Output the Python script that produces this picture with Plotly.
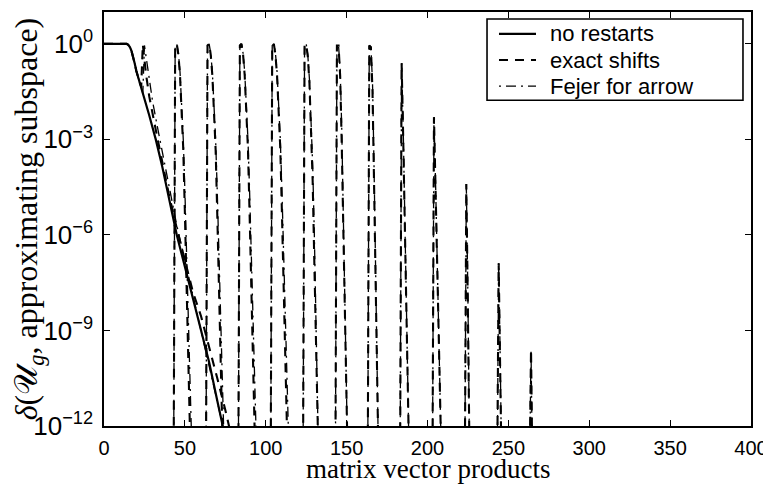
import plotly.graph_objects as go

# ---- data ----
# no restarts (solid)
norestart_x = [0, 10, 14, 15, 16, 17, 18, 19, 20, 21, 24, 28, 32, 36, 40, 45, 50, 55, 60, 65, 70, 74, 76]
norestart_y = [1.0, 1.0, 1.0, 0.93, 0.79, 0.60, 0.40, 0.24, 0.14, 0.089, 0.028, 5.6e-3, 1.0e-3, 1.4e-4,
               1.6e-5, 1.0e-6, 1.0e-7, 1.0e-8, 1.1e-9, 1.0e-10, 6.3e-12, 7.9e-13, 2.5e-13]

# exact shifts (dashed) -- first cycle, then one spike per restart
exact_x = [0, 10, 14, 15, 16, 17, 18, 19, 20, 21, 22, 23, 24, 25, 26, 28, 30, 33, 36, 40, 45, 50, 55, 60, 65, 70, 75, 78, 80,
           None,
           43, 44, 45, 46, 47, 48, 49, 50, 51, 52, 53, 54,
           63, 64, 65, 66, 67, 68, 69, 70, 71, 72, 73, 74,
           83, 84, 85, 86, 87, 88, 89, 90, 91, 92, 93, 94,
           103, 104, 105, 106, 107, 108, 109, 110, 111, 112, 113, 114,
           123, 124, 125, 126, 127, 128, 129, 130, 131, 132, 133,
           143, 144, 145, 146, 147, 148, 149, 150, 151,
           163, 164, 165, 166, 167, 168, 169, 170,
           183, 184, 185, 186, 187, 188, 189,
           203, 204, 205, 206, 207, 208, 209,
           223, 224, 225, 226,
           243, 244, 245, 246,
           263, 264, 265]
exact_y = [1.0, 1.0, 1.0, 0.93, 0.79, 0.60, 0.40, 0.24, 0.14, 0.089, 0.063, 0.045, 0.95, 0.32, 0.11, 0.022, 6.3e-3,
           1.1e-3, 2.0e-4, 2.0e-5, 1.6e-6, 1.6e-7, 1.6e-8, 2.8e-9, 3.2e-10, 3.2e-11, 3.2e-12, 7.9e-13, 2.5e-13,
           None,
           1e-14, 0.89, 1.0, 0.45, 0.10, 0.010, 5.0e-4, 5.0e-6, 2.5e-8, 1.6e-10, 7.9e-13, 1e-14,
           1e-14, 0.89, 1.0, 0.45, 0.10, 0.010, 5.0e-4, 5.0e-6, 2.5e-8, 1.6e-10, 7.9e-13, 1e-14,
           1e-14, 0.89, 1.0, 0.45, 0.10, 0.010, 5.0e-4, 5.0e-6, 2.5e-8, 1.6e-10, 7.9e-13, 1e-14,
           1e-14, 0.89, 1.0, 0.45, 0.10, 0.010, 5.0e-4, 5.0e-6, 2.5e-8, 1.6e-10, 7.9e-13, 1e-14,
           1e-14, 0.89, 1.0, 0.40, 0.063, 3.2e-3, 5.0e-5, 1.6e-7, 4.0e-10, 6.3e-13, 1e-14,
           1e-14, 0.89, 0.89, 0.10, 6.3e-4, 1.0e-6, 1.0e-9, 5.0e-13, 1e-14,
           1e-14, 0.89, 0.79, 0.032, 3.2e-5, 1.6e-8, 1.0e-11, 1e-14,
           1e-14, 0.25, 1.0e-3, 1.6e-6, 2.0e-9, 2.5e-12, 1e-14,
           1e-14, 5.0e-3, 2.5e-5, 1.0e-7, 4.0e-10, 1.6e-12, 1e-14,
           1e-14, 4.0e-5, 3.2e-9, 1e-13,
           1e-14, 1.3e-7, 3.2e-11, 1e-14,
           1e-14, 2.5e-10, 1e-14]

# Fejer for arrow (dash-dot)
fejer_x = [0, 10, 14, 15, 16, 17, 18, 19, 20, 21, 22, 23, 24, 25, 26, 28, 30, 33, 36, 40, 45, 50, 55, 60, 65, 70, 75, 78,
           None,
           43, 44, 45, 46, 47, 48, 49, 50, 51, 52, 53, 54, 55,
           63, 64, 65, 66, 67, 68, 69, 70, 71, 72, 73, 74, 75,
           83, 84, 85, 86, 87, 88, 89, 90, 91, 92, 93, 94, 95,
           103, 104, 105, 106, 107, 108, 109, 110, 111, 112, 113, 114, 115,
           123, 124, 125, 126, 127, 128, 129, 130, 131, 132, 133,
           143, 144, 145, 146, 147, 148, 149, 150, 151,
           163, 164, 165, 166, 167, 168, 169, 170,
           183, 184, 185, 186, 187, 188, 189,
           203, 204, 205, 206, 207, 208, 209,
           223, 224, 225, 226,
           243, 244, 245, 246,
           263, 264, 265]
fejer_y = [1.0, 1.0, 1.0, 0.93, 0.79, 0.60, 0.40, 0.24, 0.14, 0.089, 0.063, 0.045, 0.028, 0.89, 0.40, 0.063, 0.016,
           2.5e-3, 4.0e-4, 3.2e-5, 2.0e-6, 1.6e-7, 1.3e-8, 1.0e-9, 7.9e-11, 6.3e-12, 5.0e-13, 1.0e-13,
           None,
           1e-14, 0.89, 1.0, 0.50, 0.13, 0.016, 1.0e-3, 2.5e-5, 4.0e-7, 5.0e-9, 6.3e-11, 5.0e-13, 1e-14,
           1e-14, 0.89, 1.0, 0.50, 0.13, 0.016, 1.0e-3, 2.5e-5, 4.0e-7, 5.0e-9, 6.3e-11, 5.0e-13, 1e-14,
           1e-14, 0.89, 1.0, 0.50, 0.13, 0.016, 1.0e-3, 2.5e-5, 4.0e-7, 5.0e-9, 6.3e-11, 5.0e-13, 1e-14,
           1e-14, 0.89, 1.0, 0.50, 0.13, 0.016, 1.0e-3, 2.5e-5, 4.0e-7, 5.0e-9, 6.3e-11, 5.0e-13, 1e-14,
           1e-14, 0.89, 1.0, 0.45, 0.079, 5.0e-3, 1.6e-4, 1.3e-6, 5.0e-9, 1.3e-11, 1e-14,
           1e-14, 0.89, 0.89, 0.16, 2.0e-3, 5.0e-6, 1.0e-8, 1.0e-11, 1e-14,
           1e-14, 0.89, 0.79, 0.063, 1.0e-4, 1.0e-7, 6.3e-11, 1e-14,
           1e-14, 0.25, 2.0e-3, 5.0e-6, 6.3e-9, 7.9e-12, 1e-14,
           1e-14, 5.0e-3, 4.0e-5, 2.0e-7, 1.0e-9, 3.2e-12, 1e-14,
           1e-14, 4.0e-5, 1.0e-8, 1e-13,
           1e-14, 1.3e-7, 1.0e-10, 1e-14,
           1e-14, 2.5e-10, 1e-14]

legend_names = ["no restarts", "exact shifts", "Fejer for arrow"]
x_title = "matrix vector products"
y_title = "<i>δ</i>(𝒰<sub><i>g</i></sub>, approximating subspace)"
x_ticks = [0, 50, 100, 150, 200, 250, 300, 350, 400]
y_ticks = [1e-12, 1e-9, 1e-6, 1e-3, 1.0]
y_ticktext = ["10<sup>−12</sup>", "10<sup>−9</sup>", "10<sup>−6</sup>", "10<sup>−3</sup>", "10<sup>0</sup>"]

styles = [dict(color="black", width=2.2),
          dict(color="black", width=2.1, dash="9px,7px"),
          dict(color="black", width=1.3, dash="2px,5px,10px,5px")]

fig = go.Figure()
for name, xs, ys, st in zip(legend_names, [norestart_x, exact_x, fejer_x],
                            [norestart_y, exact_y, fejer_y], styles):
    fig.add_trace(go.Scatter(x=xs, y=ys, mode="lines", name=name, line=st, showlegend=False))

# legend box drawn in paper coordinates (the page's 8 px body margin is compensated in the margins)
leg_x0, leg_x1, leg_y0, leg_y1 = 0.592, 0.9876, 0.787, 0.983
sample_x0, sample_x1, text_x = 0.6105, 0.6677, 0.6862
row_y = [0.947, 0.884, 0.821]
fig.add_shape(type="rect", xref="paper", yref="paper", x0=leg_x0, x1=leg_x1, y0=leg_y0, y1=leg_y1,
              line=dict(color="black", width=1.6), fillcolor="white", layer="above")
for name, st, ry in zip(legend_names, styles, row_y):
    fig.add_shape(type="line", xref="paper", yref="paper", x0=sample_x0, x1=sample_x1, y0=ry, y1=ry,
                  line=st, layer="above")
    fig.add_annotation(x=text_x, y=ry, xref="paper", yref="paper", text=name, showarrow=False,
                       xanchor="left", yanchor="middle",
                       font=dict(family="Liberation Sans, Arial, sans-serif", size=22, color="black"))

# x-axis title
fig.add_annotation(x=0.5, y=0, xref="paper", yref="paper", text=x_title, showarrow=False,
                   xanchor="center", yanchor="middle", yshift=-43,
                   font=dict(family="Liberation Serif, Times New Roman, serif", size=27, color="black"))

axis_common = dict(showline=True, linecolor="black", linewidth=1.5, mirror="ticks", ticks="inside",
                   ticklen=6, tickwidth=1, tickcolor="black", showgrid=False, zeroline=False,
                   automargin=False)

fig.update_xaxes(range=[0, 400], tickvals=x_ticks, ticklabelstandoff=3,
                 tickfont=dict(family="Liberation Sans, Arial, sans-serif", size=20, color="black"),
                 **axis_common)
fig.update_yaxes(type="log", range=[-12, 1], tickvals=y_ticks, ticktext=y_ticktext, ticklabelstandoff=4,
                 tickfont=dict(family="Liberation Sans, Arial, sans-serif", size=26, color="black"),
                 title=dict(text=y_title, standoff=3,
                            font=dict(family="Liberation Serif, Times New Roman, serif", size=32, color="black")),
                 **axis_common)

fig.update_layout(
    width=763, height=479,
    margin=dict(l=96, r=20, t=4, b=61),
    paper_bgcolor="white", plot_bgcolor="white",
    font=dict(family="Liberation Sans, Arial, sans-serif", size=20, color="black"),
    showlegend=False,
)

fig.write_html("out.html")
